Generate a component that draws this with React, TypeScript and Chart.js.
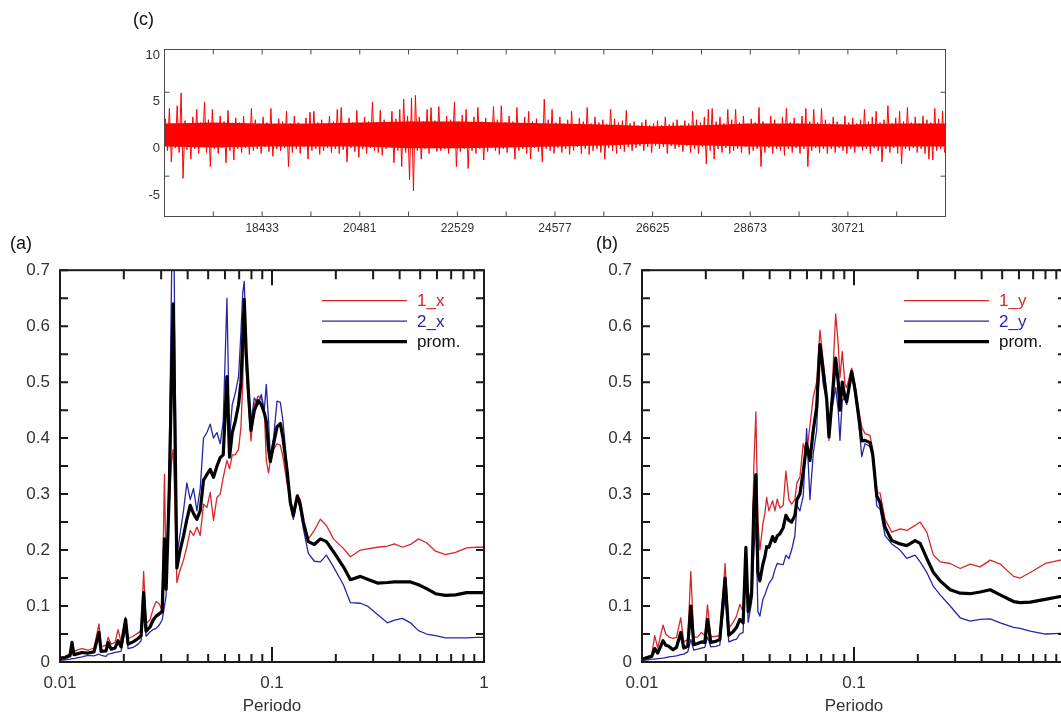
import React, { useEffect, useRef } from 'react';
import { Chart, registerables } from 'chart.js';

Chart.register(...registerables);

const FONT = "'Liberation Sans', Arial, Helvetica, sans-serif";

// ---------------- (c) signal ----------------
const sigStart = 16385;
const sigEnd = 32769;
const sigXTicks = [18433, 20481, 22529, 24577, 26625, 28673, 30721];
const sigXTickLabels = ['18433', '20481', '22529', '24577', '26625', '28673', '30721'];
const sigXMinor = [17409, 19457, 21505, 23553, 25601, 27649, 29697, 31745];
const sigYTicks = [10, 5, 0, -5];
const sigYTickLabels = ['10', '5', '0', '-5'];
const sigYMarks = [6.03, -2.92];

const sigBandX = [16385, 17409, 18433, 19457, 20481, 21505, 22529, 23553, 24577, 25601, 26625, 27649, 28673, 29697, 30721, 31745, 32769];
const sigBandTop = [2.7, 2.8, 2.7, 2.7, 2.8, 2.9, 2.9, 2.8, 2.7, 2.6, 2.4, 2.5, 2.7, 2.7, 2.6, 2.7, 2.7];
const sigBandBottom = [0.25, 0.15, 0.25, 0.25, 0.25, 0.05, 0.05, 0.15, 0.25, 0.35, 0.55, 0.35, 0.25, 0.25, 0.25, 0.25, 0.25];

// per-bin upper and lower excursions of the record (200 bins)
const sigHigh = [
  3.2, 4.3, 2.7, 4.6, 5.96, 3.0, 2.6, 3.4, 4.2, 2.8,
  5.0, 3.1, 4.2, 2.6, 3.5, 2.9, 4.1, 2.7, 3.3, 2.8,
  3.5, 2.6, 4.3, 3.1, 2.7, 3.4, 2.8, 4.3, 2.6, 3.2,
  2.9, 4.0, 2.7, 3.5, 2.8, 2.6, 3.3, 3.9, 4.0, 2.8,
  3.1, 2.6, 3.5, 2.9, 4.2, 4.4, 2.7, 3.3, 2.8, 4.1,
  2.7, 3.4, 2.9, 5.0, 2.8, 4.1, 3.1, 2.6, 4.0, 3.2,
  4.2, 5.3, 3.5, 5.4, 5.7, 3.4, 2.9, 4.2, 4.4, 3.0,
  4.5, 2.8, 3.5, 3.1, 5.0, 2.9, 3.6, 4.2, 2.7, 3.4,
  4.4, 2.9, 3.3, 2.7, 4.5, 3.1, 4.6, 2.8, 3.5, 2.9,
  4.4, 2.7, 3.4, 4.0, 2.9, 3.2, 2.6, 5.3, 3.1, 4.2,
  2.8, 3.4, 2.7, 3.1, 4.0, 2.6, 3.3, 2.9, 4.4, 2.7,
  3.4, 2.8, 3.1, 2.6, 4.2, 3.2, 2.8, 3.0, 4.1, 2.7,
  2.9, 2.5, 2.8, 3.1, 2.5, 2.7, 3.0, 2.5, 3.4, 2.6,
  2.8, 3.1, 2.5, 3.0, 2.7, 4.0, 3.1, 2.8, 3.4, 4.2,
  4.3, 2.9, 3.4, 2.7, 4.2, 3.1, 4.2, 2.8, 3.5, 2.7,
  3.2, 2.8, 4.4, 2.9, 2.6, 3.5, 3.1, 2.6, 3.4, 4.3,
  2.8, 3.3, 2.7, 3.5, 4.3, 2.9, 4.2, 2.8, 4.3, 3.1,
  2.7, 3.4, 2.9, 2.6, 3.5, 2.8, 3.3, 2.7, 3.1, 4.2,
  2.9, 3.4, 4.0, 2.8, 3.1, 4.6, 2.7, 3.3, 4.0, 2.9,
  4.4, 2.8, 3.4, 2.7, 3.5, 3.1, 2.8, 4.3, 3.2, 4.0,
];
const sigLow = [
  -0.2, -1.4, 0.1, -0.4, -3.15, -0.1, -1.1, 0.0, -0.5, 0.2,
  -0.4, -1.9, 0.0, -0.5, 0.1, -1.5, -0.2, -1.2, 0.0, -0.4,
  0.1, -0.6, -0.2, 0.0, -0.5, 0.2, -0.3, -0.8, 0.0, -0.2,
  0.1, -1.9, -0.4, 0.0, -0.5, 0.2, -1.1, -0.2, 0.0, -0.6,
  -0.2, 0.1, -0.4, 0.0, -0.5, -0.1, -1.4, 0.1, -0.3, -0.9,
  0.0, -0.5, 0.1, -0.2, -0.4, -0.7, 0.0, 0.2, -1.5, -0.2,
  -1.9, -0.4, -3.3, -4.5, -0.2, -1.1, 0.0, -0.5, 0.1, -0.3,
  -0.2, 0.0, -0.5, 0.1, -1.9, -0.3, 0.0, -2.1, -0.2, -0.5,
  0.0, -1.2, -0.3, 0.1, -0.2, -0.6, 0.0, -0.4, 0.2, -1.1,
  -0.2, 0.0, -0.5, -1.1, 0.1, -0.3, -1.4, 0.0, -0.2, -0.5,
  0.1, -0.4, 0.0, -0.6, -0.2, 0.2, -0.5, 0.0, -0.6, -0.2,
  0.0, -0.4, -1.1, 0.1, -0.2, -0.5, 0.0, -0.3, 0.2, -0.2,
  0.1, 0.3, -0.2, 0.2, -0.4, 0.3, 0.0, 0.2, -0.5, 0.3,
  0.0, 0.2, -0.3, 0.3, -0.4, 0.0, -0.5, 0.2, -1.6, -0.2,
  -1.1, 0.0, -0.4, 0.1, -0.5, -0.2, 0.0, -0.4, 0.2, -0.6,
  -0.2, 0.0, -1.9, -0.4, 0.1, -0.5, 0.0, -0.2, -0.7, 0.0,
  -0.4, 0.1, -0.5, 0.0, -1.9, -0.2, 0.1, -0.4, 0.0, -0.5,
  0.0, -0.4, 0.1, -0.2, -0.5, 0.0, -0.4, 0.2, -0.2, 0.0,
  -0.5, 0.1, -0.2, -1.4, 0.0, -0.4, 0.1, -0.5, -1.6, 0.0,
  -0.2, 0.1, -0.4, 0.0, -0.5, -1.1, -1.2, -0.2, 0.0, -0.4,
];

// ---------------- (a) / (b) shared axes ----------------
const abXMajor = [0.01, 0.1, 1];
const abXLabels = ['0.01', '0.1', '1'];
const abXMinor = [0.02, 0.03, 0.04, 0.05, 0.06, 0.07, 0.08, 0.09, 0.2, 0.3, 0.4, 0.5, 0.6, 0.7, 0.8, 0.9];
const abYTicks = [0, 0.1, 0.2, 0.3, 0.4, 0.5, 0.6, 0.7];
const abYLabels = ['0', '0.1', '0.2', '0.3', '0.4', '0.5', '0.6', '0.7'];
const abYMinor = [0.05, 0.15, 0.25, 0.35, 0.45, 0.55, 0.65];

// ---------------- (a) X direction ----------------
const periodsA = [
  0.01, 0.01056, 0.01115, 0.01139, 0.01164, 0.01216, 0.0127, 0.01356, 0.01447, 0.01528,
  0.01562, 0.01649, 0.01686, 0.01741, 0.01819, 0.01879, 0.01941, 0.02039, 0.02095, 0.02212,
  0.02336, 0.02413, 0.0248, 0.02548, 0.02661, 0.0275, 0.02841, 0.02936, 0.03033, 0.0311,
  0.03168, 0.03273, 0.03363, 0.03418, 0.03475, 0.03559, 0.03688, 0.03823, 0.03967, 0.04113,
  0.04264, 0.04423, 0.04585, 0.04753, 0.04932, 0.05112, 0.05298, 0.05498, 0.05699, 0.05888,
  0.06131, 0.06307, 0.06494, 0.06709, 0.06954, 0.07138, 0.07279, 0.07399, 0.07561, 0.07752,
  0.07957, 0.08248, 0.08615, 0.08901, 0.09196, 0.09398, 0.09636, 0.09817, 0.1018, 0.1056,
  0.1095, 0.1127, 0.1177, 0.122, 0.1261, 0.1317, 0.1361, 0.1406, 0.1484, 0.1584,
  0.1691, 0.1806, 0.1949, 0.2172, 0.2344, 0.2613, 0.282, 0.3144, 0.3505, 0.3782,
  0.4126, 0.4501, 0.4911, 0.5358, 0.5906, 0.6584, 0.7339, 0.8278, 0.9227, 1.0,
];
const redA = [
  0.009, 0.010, 0.015, 0.030, 0.018, 0.022, 0.024, 0.021, 0.025, 0.068,
  0.027, 0.030, 0.044, 0.032, 0.035, 0.058, 0.036, 0.080, 0.042, 0.046,
  0.052, 0.056, 0.162, 0.068, 0.076, 0.095, 0.108, 0.104, 0.092, 0.335,
  0.15, 0.28, 0.36, 0.38, 0.30, 0.142, 0.165, 0.182, 0.206, 0.235,
  0.226, 0.241, 0.226, 0.282, 0.276, 0.303, 0.253, 0.294, 0.30, 0.33,
  0.36, 0.345, 0.37, 0.37, 0.38, 0.42, 0.50, 0.60, 0.52, 0.46,
  0.395, 0.46, 0.475, 0.472, 0.449, 0.36, 0.338, 0.36, 0.38, 0.39,
  0.387, 0.366, 0.32, 0.29, 0.267, 0.297, 0.29, 0.25, 0.22, 0.235,
  0.255, 0.244, 0.22, 0.203, 0.188, 0.20, 0.202, 0.205, 0.207, 0.211,
  0.205, 0.21, 0.22, 0.213, 0.198, 0.192, 0.196, 0.204, 0.205, 0.205,
];
const blueA = [
  0.003, 0.004, 0.005, 0.006, 0.006, 0.008, 0.009, 0.012, 0.011, 0.014,
  0.012, 0.010, 0.014, 0.015, 0.017, 0.018, 0.019, 0.060, 0.024, 0.026,
  0.032, 0.038, 0.085, 0.046, 0.054, 0.058, 0.060, 0.066, 0.075, 0.10,
  0.12, 0.35, 0.70, 0.90, 0.60, 0.19, 0.23, 0.27, 0.32, 0.29,
  0.31, 0.27, 0.31, 0.40, 0.41, 0.425, 0.40, 0.41, 0.39, 0.43,
  0.65, 0.40, 0.46, 0.48, 0.51, 0.59, 0.66, 0.68, 0.56, 0.485,
  0.425, 0.472, 0.46, 0.478, 0.45, 0.496, 0.43, 0.367, 0.402, 0.466,
  0.464, 0.43, 0.35, 0.28, 0.255, 0.297, 0.27, 0.238, 0.194, 0.18,
  0.179, 0.191, 0.17, 0.138, 0.106, 0.105, 0.100, 0.085, 0.070, 0.075,
  0.078, 0.07, 0.056, 0.05, 0.047, 0.043, 0.043, 0.043, 0.044, 0.044,
];
const meanA = [
  0.006, 0.008, 0.011, 0.035, 0.013, 0.015, 0.017, 0.016, 0.018, 0.053,
  0.019, 0.020, 0.035, 0.023, 0.025, 0.038, 0.027, 0.076, 0.032, 0.036,
  0.042, 0.047, 0.124, 0.055, 0.063, 0.075, 0.082, 0.086, 0.090, 0.22,
  0.13, 0.30, 0.52, 0.64, 0.45, 0.168, 0.20, 0.225, 0.255, 0.28,
  0.265, 0.255, 0.27, 0.325, 0.335, 0.344, 0.33, 0.35, 0.365, 0.37,
  0.51, 0.366, 0.41, 0.43, 0.46, 0.50, 0.58, 0.648, 0.55, 0.478,
  0.414, 0.449, 0.467, 0.46, 0.445, 0.43, 0.38, 0.358, 0.39, 0.42,
  0.426, 0.40, 0.343, 0.285, 0.262, 0.297, 0.28, 0.25, 0.215, 0.21,
  0.22, 0.215, 0.197, 0.17, 0.147, 0.153, 0.148, 0.141, 0.142, 0.143,
  0.143, 0.143, 0.138, 0.131, 0.122, 0.119, 0.12, 0.124, 0.124, 0.124,
];

// ---------------- (b) Y direction ----------------
const periodsB = [
  0.01, 0.01064, 0.01111, 0.01148, 0.01186, 0.01257, 0.01294, 0.01337, 0.01401, 0.01454,
  0.01523, 0.01574, 0.01644, 0.01699, 0.01755, 0.01833, 0.01908, 0.01978, 0.02037, 0.02111,
  0.02229, 0.02328, 0.02466, 0.02567, 0.0269, 0.02792, 0.02894, 0.03, 0.0309, 0.03168,
  0.03287, 0.03371, 0.03445, 0.03521, 0.03598, 0.03718, 0.038, 0.03871, 0.03969, 0.04131,
  0.04236, 0.04343, 0.04472, 0.04635, 0.04773, 0.04931, 0.05078, 0.05263, 0.05379, 0.05557,
  0.05761, 0.05978, 0.06196, 0.06424, 0.06665, 0.06908, 0.07161, 0.0743, 0.07619, 0.07846,
  0.08193, 0.08428, 0.08585, 0.08803, 0.09065, 0.09234, 0.09752, 0.1011, 0.1048, 0.1088,
  0.1127, 0.119, 0.1226, 0.128, 0.1327, 0.1401, 0.1507, 0.1649, 0.1774, 0.1942,
  0.2051, 0.2205, 0.2369, 0.2549, 0.2842, 0.3168, 0.3531, 0.3937, 0.4389, 0.4894,
  0.5655, 0.6083, 0.6783, 0.7984, 0.9399, 1.0,
];
const redB = [
  0.006, 0.010, 0.012, 0.047, 0.025, 0.066, 0.050, 0.045, 0.042, 0.044,
  0.079, 0.036, 0.040, 0.162, 0.044, 0.045, 0.053, 0.047, 0.102, 0.045,
  0.046, 0.047, 0.176, 0.060, 0.071, 0.082, 0.103, 0.090, 0.206, 0.110,
  0.130, 0.353, 0.447, 0.25, 0.20, 0.247, 0.265, 0.294, 0.270, 0.288,
  0.270, 0.291, 0.275, 0.280, 0.341, 0.290, 0.282, 0.290, 0.320, 0.330,
  0.390, 0.370, 0.423, 0.473, 0.500, 0.593, 0.537, 0.479, 0.396, 0.470,
  0.622, 0.567, 0.508, 0.555, 0.496, 0.490, 0.525, 0.496, 0.455, 0.420,
  0.408, 0.405, 0.379, 0.302, 0.302, 0.255, 0.232, 0.238, 0.235, 0.244,
  0.250, 0.232, 0.191, 0.179, 0.176, 0.167, 0.175, 0.170, 0.182, 0.175,
  0.153, 0.150, 0.160, 0.176, 0.182, 0.184,
];
const blueB = [
  0.003, 0.004, 0.005, 0.005, 0.006, 0.007, 0.008, 0.009, 0.010, 0.011,
  0.013, 0.014, 0.018, 0.040, 0.021, 0.023, 0.025, 0.026, 0.045, 0.027,
  0.028, 0.030, 0.12, 0.036, 0.039, 0.041, 0.050, 0.053, 0.20, 0.071,
  0.106, 0.20, 0.25, 0.09, 0.082, 0.112, 0.120, 0.129, 0.140, 0.150,
  0.165, 0.176, 0.175, 0.174, 0.191, 0.185, 0.200, 0.226, 0.280, 0.270,
  0.297, 0.417, 0.290, 0.373, 0.414, 0.555, 0.496, 0.467, 0.408, 0.450,
  0.490, 0.449, 0.396, 0.467, 0.473, 0.460, 0.520, 0.478, 0.437, 0.367,
  0.390, 0.385, 0.370, 0.279, 0.273, 0.226, 0.211, 0.200, 0.185, 0.191,
  0.179, 0.160, 0.135, 0.120, 0.100, 0.079, 0.073, 0.076, 0.077, 0.070,
  0.062, 0.060, 0.055, 0.050, 0.051, 0.051,
];
const meanB = [
  0.005, 0.008, 0.010, 0.024, 0.016, 0.038, 0.030, 0.028, 0.022, 0.026,
  0.053, 0.025, 0.028, 0.100, 0.031, 0.033, 0.036, 0.035, 0.076, 0.035,
  0.037, 0.040, 0.150, 0.048, 0.054, 0.062, 0.076, 0.070, 0.205, 0.090,
  0.120, 0.280, 0.335, 0.16, 0.145, 0.175, 0.188, 0.206, 0.205, 0.224,
  0.215, 0.225, 0.229, 0.240, 0.262, 0.253, 0.250, 0.262, 0.290, 0.300,
  0.340, 0.390, 0.360, 0.414, 0.455, 0.567, 0.520, 0.470, 0.402, 0.460,
  0.543, 0.500, 0.450, 0.500, 0.473, 0.465, 0.519, 0.487, 0.443, 0.395,
  0.396, 0.392, 0.370, 0.297, 0.285, 0.241, 0.217, 0.211, 0.208, 0.217,
  0.212, 0.185, 0.160, 0.145, 0.129, 0.123, 0.122, 0.125, 0.129, 0.120,
  0.108, 0.106, 0.107, 0.112, 0.117, 0.118,
];

const RED = '#d9262b';
const BLUE = '#2626a8';
const BLACK = '#000000';

// ---------------- plugin: boxed frame with inward ticks + legend ----------------
const framePlugin = {
  id: 'frameTicks',
  afterDatasetsDraw(chart: any, _args: any, o: any) {
    if (!o || !o.enabled) return;
    const { ctx, chartArea: a, scales } = chart;
    const xs = scales.x;
    const ys = scales.y;
    ctx.save();
    ctx.strokeStyle = o.color;
    ctx.lineWidth = o.lineWidth;
    ctx.lineCap = 'butt';
    ctx.beginPath();
    for (const t of o.xTicks) {
      const px = xs.getPixelForValue(t[0]);
      ctx.moveTo(px, a.bottom);
      ctx.lineTo(px, a.bottom - t[1]);
      ctx.moveTo(px, a.top);
      ctx.lineTo(px, a.top + t[2]);
    }
    for (const t of o.yTicks) {
      const py = ys.getPixelForValue(t[0]);
      ctx.moveTo(a.left, py);
      ctx.lineTo(a.left + t[1], py);
      ctx.moveTo(a.right, py);
      ctx.lineTo(a.right - t[1], py);
    }
    ctx.stroke();
    ctx.strokeRect(a.left, a.top, a.right - a.left, a.bottom - a.top);

    if (o.legend) {
      const L = o.legend;
      ctx.font = `${L.size}px ${FONT}`;
      ctx.textBaseline = 'middle';
      ctx.textAlign = 'left';
      chart.data.datasets.forEach((ds: any, i: number) => {
        const y = a.top + L.rows[i];
        ctx.beginPath();
        ctx.strokeStyle = ds.borderColor;
        ctx.lineWidth = ds.borderWidth;
        ctx.moveTo(a.left + L.x0, y);
        ctx.lineTo(a.left + L.x1, y);
        ctx.stroke();
        ctx.fillStyle = L.textColors[i];
        ctx.fillText(ds.label, a.left + L.tx, y + 1);
      });
    }
    ctx.restore();
  },
};

function abConfig(periods: number[], r: number[], b: number[], k: number[], labels: string[]) {
  const mk = (vals: number[]) => periods.map((p, i) => ({ x: p, y: vals[i] }));
  const tickFont = { family: FONT, size: 17 };
  return {
    type: 'line',
    data: {
      datasets: [
        { label: labels[0], data: mk(r), borderColor: RED, borderWidth: 1.3, pointRadius: 0, tension: 0, fill: false, order: 2, borderJoinStyle: 'round' },
        { label: labels[1], data: mk(b), borderColor: BLUE, borderWidth: 1.3, pointRadius: 0, tension: 0, fill: false, order: 1, borderJoinStyle: 'round' },
        { label: labels[2], data: mk(k), borderColor: BLACK, borderWidth: 3.2, pointRadius: 0, tension: 0, fill: false, order: 0, borderJoinStyle: 'round' },
      ],
    },
    options: {
      animation: false,
      responsive: false,
      maintainAspectRatio: false,
      devicePixelRatio: 1,
      events: [],
      layout: { padding: { top: 14, right: 16, left: 0, bottom: 0 } },
      plugins: {
        legend: { display: false },
        tooltip: { enabled: false },
        frameTicks: {
          enabled: true,
          color: '#1a1a1a',
          lineWidth: 2,
          xTicks: [...abXMajor.map((v) => [v, 15, 15]), ...abXMinor.map((v) => [v, 8, 9])],
          yTicks: [...abYTicks.map((v) => [v, 8]), ...abYMinor.map((v) => [v, 8])],
          legend: {
            size: 17,
            x0: 262,
            x1: 347,
            tx: 357,
            rows: [30.5, 51, 71.5],
            textColors: [RED, BLUE, '#111'],
          },
        },
      },
      scales: {
        x: {
          type: 'logarithmic',
          min: 0.01,
          max: 1,
          grid: { display: false, drawTicks: false },
          border: { display: false },
          ticks: {
            autoSkip: false,
            maxRotation: 0,
            minRotation: 0,
            padding: 11,
            color: '#333',
            font: tickFont,
            callback: (_v: any, i: number) => abXLabels[i],
          },
          afterBuildTicks: (s: any) => {
            s.ticks = abXMajor.map((v) => ({ value: v }));
          },
          afterFit: (s: any) => {
            s.height = 55;
          },
          title: { display: true, text: 'Periodo', color: '#333', font: tickFont, padding: { top: 0, bottom: 0 } },
        },
        y: {
          type: 'linear',
          min: 0,
          max: 0.7,
          grid: { display: false, drawTicks: false },
          border: { display: false },
          ticks: {
            padding: 10,
            color: '#333',
            font: tickFont,
            callback: (_v: any, i: number) => abYLabels[i],
          },
          afterBuildTicks: (s: any) => {
            s.ticks = abYTicks.map((v) => ({ value: v }));
          },
          afterFit: (s: any) => {
            s.width = 60;
          },
        },
      },
    },
    plugins: [framePlugin],
  };
}

function signalConfig() {
  const binW = (sigEnd - sigStart) / sigHigh.length;
  const zig: { x: number; y: number }[] = [];
  sigHigh.forEach((h, i) => {
    zig.push({ x: sigStart + (i + 0.25) * binW, y: h });
    zig.push({ x: sigStart + (i + 0.75) * binW, y: sigLow[i] });
  });
  const tickFont = { family: FONT, size: 12 };
  return {
    type: 'line',
    data: {
      datasets: [
        { label: 'signal', data: zig, borderColor: '#ff0000', borderWidth: 1, pointRadius: 0, tension: 0, fill: false, order: 0, borderJoinStyle: 'bevel' },
        { label: 'bandTop', data: sigBandX.map((x, i) => ({ x, y: sigBandTop[i] })), borderColor: 'rgba(255,0,0,0)', borderWidth: 0, backgroundColor: '#ff0000', pointRadius: 0, tension: 0, fill: '+1', order: 1 },
        { label: 'bandBottom', data: sigBandX.map((x, i) => ({ x, y: sigBandBottom[i] })), borderColor: 'rgba(255,0,0,0)', borderWidth: 0, pointRadius: 0, tension: 0, fill: false, order: 2 },
      ],
    },
    options: {
      animation: false,
      responsive: false,
      maintainAspectRatio: false,
      devicePixelRatio: 1,
      events: [],
      layout: { padding: { top: 49.5, right: 54.5, left: 0, bottom: 0 } },
      plugins: {
        legend: { display: false },
        tooltip: { enabled: false },
        frameTicks: {
          enabled: true,
          color: '#4a4a4a',
          lineWidth: 1,
          xTicks: [...sigXTicks.map((v) => [v, 5, 5]), ...sigXMinor.map((v) => [v, 5, 5])],
          yTicks: sigYMarks.map((v) => [v, 5]),
        },
      },
      scales: {
        x: {
          type: 'linear',
          min: sigStart,
          max: sigEnd,
          grid: { display: false, drawTicks: false },
          border: { display: false },
          ticks: {
            autoSkip: false,
            maxRotation: 0,
            minRotation: 0,
            padding: 5,
            color: '#333',
            font: tickFont,
            callback: (_v: any, i: number) => sigXTickLabels[i],
          },
          afterBuildTicks: (s: any) => {
            s.ticks = sigXTicks.map((v) => ({ value: v }));
          },
          afterFit: (s: any) => {
            s.height = 28.5;
          },
        },
        y: {
          type: 'linear',
          min: -7.22,
          max: 10.59,
          grid: { display: false, drawTicks: false },
          border: { display: false },
          ticks: {
            padding: 4.5,
            color: '#333',
            font: { family: FONT, size: 13 },
            callback: (_v: any, i: number) => sigYTickLabels[i],
          },
          afterBuildTicks: (s: any) => {
            s.ticks = sigYTicks.map((v) => ({ value: v }));
          },
          afterFit: (s: any) => {
            s.width = 64.5;
          },
        },
      },
    },
    plugins: [framePlugin],
  };
}

function ChartBox({ make, left, top, width, height }: any) {
  const ref = useRef<HTMLCanvasElement>(null);
  useEffect(() => {
    const chart = new Chart(ref.current as HTMLCanvasElement, make() as any);
    return () => chart.destroy();
  }, []);
  return (
    <canvas
      ref={ref}
      width={width}
      height={height}
      style={{ position: 'absolute', left, top, width, height, display: 'block' }}
    />
  );
}

const panelLabel = (text: string, left: number, top: number) => (
  <div
    style={{
      position: 'absolute',
      left,
      top,
      fontFamily: FONT,
      fontSize: 18,
      lineHeight: '20px',
      color: '#111',
      whiteSpace: 'nowrap',
    }}
  >
    {text}
  </div>
);

export default function App() {
  return (
    <div
      style={{
        position: 'fixed',
        left: 0,
        top: 0,
        width: 1061,
        height: 715,
        overflow: 'hidden',
        background: '#ffffff',
      }}
    >
      <ChartBox make={signalConfig} left={100} top={0} width={900} height={245} />
      <ChartBox make={() => abConfig(periodsA, redA, blueA, meanA, ['1_x', '2_x', 'prom.'])} left={0} top={250} width={500} height={467} />
      <ChartBox make={() => abConfig(periodsB, redB, blueB, meanB, ['1_y', '2_y', 'prom.'])} left={582} top={250} width={500} height={467} />
      {panelLabel('(c)', 133, 9)}
      {panelLabel('(a)', 10, 233)}
      {panelLabel('(b)', 596, 233)}
    </div>
  );
}
